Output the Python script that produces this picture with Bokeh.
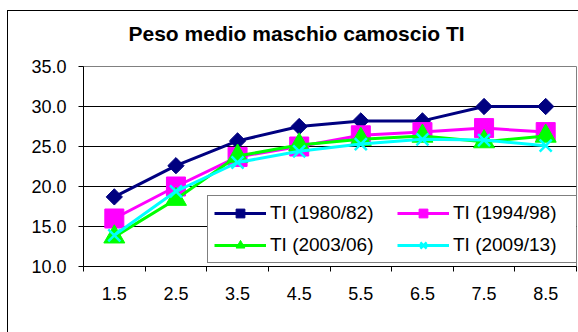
import numpy as np
from bokeh.plotting import figure
from bokeh.models import (Range1d, FixedTicker, NumeralTickFormatter, Legend, LegendItem, Title)
from bokeh.embed import file_html
from bokeh.resources import INLINE

ages = [1.5, 2.5, 3.5, 4.5, 5.5, 6.5, 7.5, 8.5]
s_1980_82 = [18.7, 22.6, 25.7, 27.5, 28.2, 28.2, 30.0, 30.0]
s_1994_98 = [16.0, 20.0, 23.7, 25.0, 26.4, 26.8, 27.3, 26.8]
s_2003_06 = [13.7, 18.4, 23.8, 25.2, 25.9, 26.3, 25.6, 26.3]
s_2009_13 = [13.9, 19.4, 23.0, 24.4, 25.3, 25.9, 25.8, 25.1]
names = ["TI (1980/82)", "TI (1994/98)", "TI (2003/06)", "TI (2009/13)"]
title_text = "Peso medio maschio camoscio TI"
y_ticks = [10, 15, 20, 25, 30, 35]
x_bounds = [1, 2, 3, 4, 5, 6, 7, 8, 9]

FONT = "Liberation Sans"
W, H = 578, 332

p = figure(width=W, height=H, output_backend="svg", toolbar_location=None,
           x_range=Range1d(1, 9), y_range=Range1d(10, 35),
           min_border_left=83, min_border_right=2, min_border_top=66, min_border_bottom=66)
p.background_fill_color = "white"
p.border_fill_color = None
p.outline_line_color = "#808080"
p.outline_line_width = 1
# outer chart border (left and top edges visible in the window)
p.styles = {
    "background-color": "white",
    "background-image": "linear-gradient(#000,#000), linear-gradient(#000,#000)",
    "background-size": "1px 100%, 100% 1px",
    "background-position": "7px 10px, 7px 10px",
    "background-repeat": "no-repeat",
}

t = Title(text=title_text, text_font=FONT, text_font_size="21px", text_font_style="bold",
          align="left", offset=45, standoff=41, vertical_align="middle", text_color="black")
p.add_layout(t, "above")

# axes
p.xaxis.ticker = FixedTicker(ticks=ages, minor_ticks=x_bounds)
p.xaxis.major_tick_out = 0
p.xaxis.major_tick_in = 0
p.xaxis.minor_tick_out = 5
p.xaxis.minor_tick_in = 0
p.xaxis.minor_tick_line_color = "black"
p.xaxis.axis_line_color = "black"
p.xaxis.major_label_text_font = FONT
p.xaxis.major_label_text_font_size = "18px"
p.xaxis.major_label_text_color = "black"
p.xaxis.major_label_standoff = 15

p.yaxis.ticker = FixedTicker(ticks=y_ticks, minor_ticks=[])
p.yaxis.formatter = NumeralTickFormatter(format="0.0")
p.yaxis.major_tick_out = 5
p.yaxis.major_tick_in = 0
p.yaxis.major_tick_line_color = "black"
p.yaxis.axis_line_color = "black"
p.yaxis.major_label_text_font = FONT
p.yaxis.major_label_text_font_size = "18px"
p.yaxis.major_label_text_color = "black"
p.yaxis.major_label_standoff = 12

p.xgrid.visible = False
p.ygrid.ticker = FixedTicker(ticks=[15, 20, 25, 30])
p.ygrid.grid_line_color = "black"
p.ygrid.grid_line_width = 1

series = [
    (s_1980_82, "#000080", "square", 11.5, np.pi / 4),
    (s_1994_98, "#FF00FF", "square", 19, 0),
    (s_2003_06, "#00FF00", "triangle", 21, 0),
    (s_2009_13, "#00FFFF", "x", 17, 0),
]
items = []
for (vals, col, mk, sz, ang), nm in zip(series, names):
    r1 = p.line(ages, vals, line_color=col, line_width=3)
    if mk == "x":
        r2 = p.scatter(ages, vals, marker=mk, size=sz, line_color=col, line_width=2.5)
    else:
        r2 = p.scatter(ages, vals, marker=mk, size=sz, angle=ang, fill_color=col,
                       line_color=col, line_width=1)
    items.append(LegendItem(label=nm, renderers=[r1, r2]))

leg = Legend(items=items, location=(124, 3), orientation="horizontal", ncols=2,
             label_text_font=FONT, label_text_font_size="19px", label_text_color="black",
             glyph_width=52, glyph_height=22, label_height=22, label_width=117,
             label_standoff=4, spacing=10, padding=6, margin=0,
             border_line_color="black", border_line_width=1,
             background_fill_color="white", background_fill_alpha=1)
p.add_layout(leg, "center")

open("out.html", "w").write(file_html(p, INLINE))
